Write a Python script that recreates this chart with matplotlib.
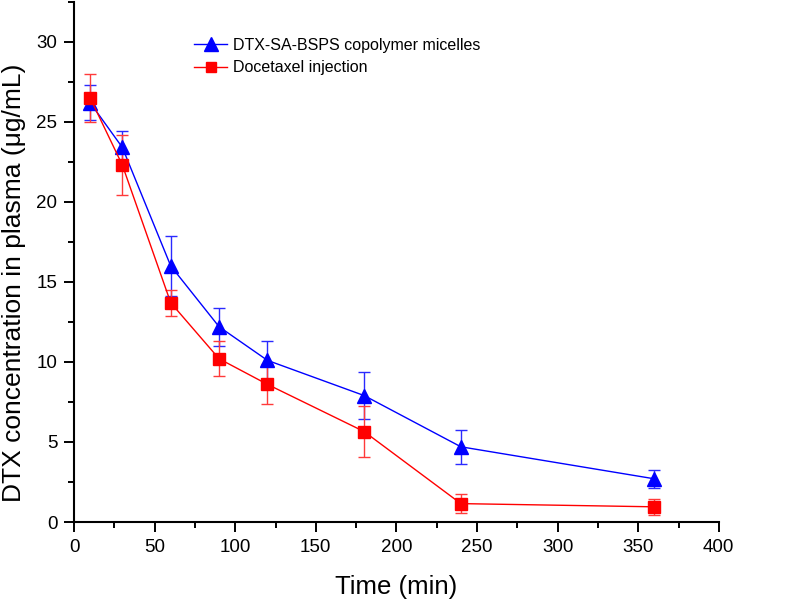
import matplotlib
matplotlib.use("Agg")
import matplotlib.pyplot as plt
from matplotlib.ticker import MultipleLocator
from matplotlib.lines import Line2D

plt.rcParams['font.family'] = ['Liberation Sans', 'DejaVu Sans']

time = [10, 30, 60, 90, 120, 180, 240, 360]
micelles = [26.2, 23.4, 16.0, 12.2, 10.1, 7.9, 4.7, 2.7]
micelles_err = [1.1, 1.05, 1.9, 1.2, 1.2, 1.45, 1.05, 0.55]
injection = [26.5, 22.3, 13.7, 10.2, 8.6, 5.65, 1.15, 0.95]
injection_err = [1.5, 1.9, 0.8, 1.1, 1.25, 1.6, 0.6, 0.5]

labels = ["DTX-SA-BSPS copolymer micelles", "Docetaxel injection"]
blue = '#0000ff'
red = '#ff0000'

fig = plt.figure(figsize=(8, 6.07), dpi=100)
ax = fig.add_axes([0.0925, 0.14, 0.806, 0.857])

ax.errorbar(time, micelles, yerr=micelles_err, color=blue, marker='^',
            markersize=10, linewidth=1, elinewidth=1, capsize=4.2, capthick=1,
            ecolor='#2a2aff')
ax.errorbar(time, injection, yerr=injection_err, color=red, marker='s',
            markersize=8.2, linewidth=1, elinewidth=1, capsize=4.2, capthick=1,
            ecolor='#ff3a3a')

ax.set_xlim(0, 400)
ax.set_ylim(0, 32.5)
ax.xaxis.set_major_locator(MultipleLocator(50))
ax.xaxis.set_minor_locator(MultipleLocator(25))
ax.yaxis.set_major_locator(MultipleLocator(5))
ax.yaxis.set_minor_locator(MultipleLocator(2.5))
ax.tick_params(which='major', direction='out', length=7, width=1.4, labelsize=13.5, pad=5)
ax.tick_params(which='minor', direction='out', length=4.3, width=1.4)
ax.spines['top'].set_visible(False)
ax.spines['right'].set_visible(False)
ax.spines['left'].set_linewidth(1.5)
ax.spines['bottom'].set_linewidth(1.5)

ax.set_xlabel("Time (min)", fontsize=18.5)
ax.set_ylabel("DTX concentration in plasma (\u03bcg/mL)", fontsize=19)
ax.xaxis.set_label_coords(0.5, -0.102)
ax.yaxis.set_label_coords(-0.075, 0.459)

handles = [
    Line2D([], [], color=blue, marker='^', markersize=10, linewidth=1),
    Line2D([], [], color=red, marker='s', markersize=7.5, linewidth=1),
]
ax.legend(handles, labels, loc='upper left', bbox_to_anchor=(0.166, 0.955), frameon=False,
          fontsize=11.5, handlelength=2.1, handletextpad=0.35, labelspacing=0.45,
          borderpad=0.3)

fig.savefig("out.png", dpi=100)
